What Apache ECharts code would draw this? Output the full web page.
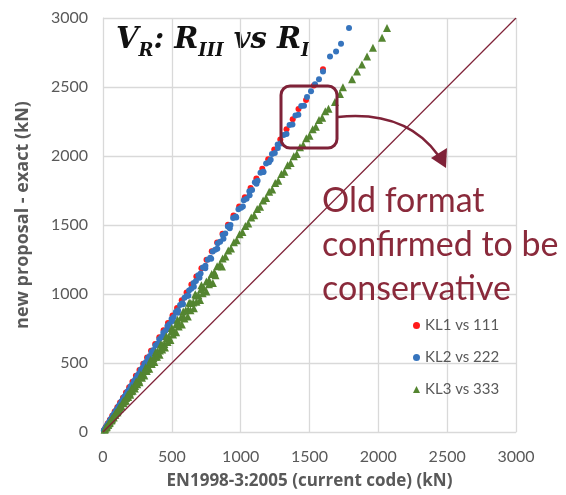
<!doctype html>
<html>
<head>
<meta charset="utf-8">
<title>V_R: R_III vs R_I</title>
<style>
  html, body { margin: 0; padding: 0; background: #fff; }
  #main { width: 566px; height: 495px; }
</style>
</head>
<body>
<div id="main"></div>
<script src="https://cdn.jsdelivr.net/npm/echarts@6/dist/echarts.min.js"></script>
<script>
// axis ticks
var xTicks = [0, 500, 1000, 1500, 2000, 2500, 3000];
var yTicks = [0, 500, 1000, 1500, 2000, 2500, 3000];

// EN1998-3 value vs new proposal value
var kl1 = [
  [8,15],[20,36],[34,61],[50,88],[67,117],[85,148],[104,180],[124,214],[145,249],[167,286],
  [190,325],[214,365],[239,407],[265,450],[292,494],[320,540],[349,588],[379,637],[409,686],[440,737],
  [472,790],[505,844],[538,898],[572,954],[607,1011],[642,1068],[678,1127],[715,1187],[752,1248],[790,1310],
  [829,1373],[868,1437],[908,1502],[948,1568],[989,1634],[1030,1701],[1072,1769],[1114,1837],[1157,1907],[1200,1977],
  [1244,2048],[1288,2120],[1333,2193],[1378,2267],[1420,2340],[1475,2406],[1532,2510],[1598,2628]
];

var kl2 = [
  [10,17],[24,40],[40,66],[57,94],[75,124],[94,155],[114,188],[135,223],[156,258],[178,294],
  [201,331],[225,370],[249,410],[274,451],[300,494],[326,536],[353,580],[381,626],[409,672],[438,720],
  [468,769],[498,818],[529,869],[560,920],[592,972],[625,1026],[658,1080],[692,1136],[726,1192],[761,1249],
  [797,1308],[833,1367],[870,1428],[907,1489],[945,1551],[984,1615],[1023,1679],[1063,1745],[1103,1810],[1144,1878],
  [1185,1945],[1227,2014],[1269,2083],[1312,2153],[1355,2224],[1398,2294],[1440,2363],[1482,2427],[1511,2470],[1540,2520],
  [1569,2556],[1598,2613],[1649,2721],[1693,2757],[1729,2814],[1787,2928],
  [16,25],[33,53],[52,84],[72,116],[93,149],[116,186],[140,224],[165,263],[191,305],[218,347],
  [246,392],[275,438],[305,486],[336,535],[368,585],[401,638],[435,692],[470,747],[506,805],[543,864],
  [581,925],[620,988],[660,1052],[701,1118],[743,1186],[786,1256],[830,1328],[875,1401],[921,1477],[968,1555],
  [1016,1634],[1065,1716],[1115,1799],[1166,1884],[1218,1972],[1270,2058],
  [6,10],[18,29],[31,50],[47,76],[64,104],[83,135],[104,169],[125,203],[146,237],[168,272],
  [190,308],[213,345],[237,385],[262,424],[287,465],[313,507],[340,551],[367,595],[395,640],[424,687],
  [453,734],[483,783],[514,833],[545,883],[576,933],[608,985],[641,1038],[675,1094],[709,1149],[744,1205],
  [779,1262],[815,1320],[851,1379],[888,1439],[926,1500],[964,1562],[1003,1625],[1043,1690],[1083,1754],[1123,1820],
  [1164,1886],[1206,1955],[1248,2022],[1290,2090],[1333,2160],[1376,2229],[1419,2299],[1460,2365]
];

var kl3 = [
  [12,17],[28,40],[46,66],[65,93],[86,123],[108,155],[131,188],[155,222],[180,258],[206,295],
  [233,334],[261,374],[290,415],[320,458],[350,501],[381,545],[413,591],[446,638],[479,685],[513,734],
  [548,784],[583,834],[619,886],[656,938],[693,991],[731,1046],[770,1101],[809,1157],[849,1214],[889,1272],
  [930,1330],[971,1389],[1013,1449],[1055,1510],[1098,1571],[1141,1632],[1185,1695],[1229,1758],[1273,1821],[1318,1885],
  [1363,1950],[1408,2014],[1454,2080],[1500,2146],[1546,2212],[1592,2278],[1638,2343],[1685,2391],[1721,2449],[1743,2499],
  [1809,2556],[1845,2613],[1881,2663],[1918,2721],[1961,2785],[2027,2857],[2063,2928],
  [20,32],[42,64],[66,100],[92,140],[119,181],[148,225],[178,270],[209,318],[241,366],[275,417],
  [310,470],[346,524],[383,579],[421,636],[460,694],[500,753],[541,813],[583,874],[626,936],[670,999],[715,1063],
  [25,34],[50,68],[77,105],[105,143],[135,184],[166,226],[198,270],[231,315],[265,361],[300,409],
  [336,458],[373,508],[411,560],[450,613],[490,667],[531,722],[573,779],[616,837],[660,896],[705,956],
  [751,1018],[798,1080],
  [16,24],[36,53],[56,83],[76,112],[97,143],[120,177],[143,211],[168,247],[193,284],[220,323],
  [247,363],[276,405],[305,448],[335,492],[366,537],[397,583],[430,631],[463,680],[496,728],[531,779],
  [566,830],[601,882],[638,935],[675,989],[712,1035],[751,1090],[790,1145],[829,1201],[869,1258],[910,1316],
  [951,1375],[992,1433],[1034,1493],[1077,1554],[1120,1616],[1163,1678],[1207,1741],[1251,1804],[1296,1869],[1341,1933],
  [1386,1998],[1431,2063],[1477,2128],[1523,2194],[1569,2260],[1615,2325],
  [38,53],[62,86],[90,125],[120,167],[150,209],[182,253],[215,299],[249,346],[283,393],[318,442],
  [354,492],[392,545],[430,598],[469,652],[509,707],[550,764],[592,822],[635,882],[679,943],[724,1006],
  [770,1070],[817,1135],[864,1200]
];

// 1:1 reference line
var equality = [[0, 0], [3000, 3000]];

var maroon = '#7f2238';
var gridColor = '#d9d9d9';
var labelColor = '#595959';
var serif = '"DejaVu Serif", serif';

var chart = echarts.init(document.getElementById('main'));

function plain(v) { return String(v); }

chart.setOption({
  animation: false,
  backgroundColor: '#fff',
  grid: { left: 103, right: 50, top: 18, bottom: 58 },
  xAxis: {
    type: 'value',
    min: xTicks[0],
    max: xTicks[xTicks.length - 1],
    interval: xTicks[1] - xTicks[0],
    name: 'EN1998-3:2005 (current code) (kN)',
    nameLocation: 'middle',
    nameGap: 41,
    nameTextStyle: { fontFamily: 'Open Sans', fontWeight: 'bold', fontSize: 17, color: labelColor },
    axisLine: { lineStyle: { color: gridColor } },
    axisTick: { show: false },
    axisLabel: { margin: 17, fontFamily: 'Lato', fontSize: 16, color: labelColor, formatter: plain },
    splitLine: { lineStyle: { color: gridColor, width: 1.3 } }
  },
  yAxis: {
    type: 'value',
    min: yTicks[0],
    max: yTicks[yTicks.length - 1],
    interval: yTicks[1] - yTicks[0],
    axisLine: { show: true, lineStyle: { color: gridColor } },
    axisTick: { show: false },
    axisLabel: { margin: 15, fontFamily: 'Lato', fontSize: 16, color: labelColor, formatter: plain },
    splitLine: { lineStyle: { color: gridColor, width: 1.3 } }
  },
  legend: {
    orient: 'vertical',
    left: 408,
    top: 313,
    itemWidth: 7,
    itemHeight: 7,
    itemGap: 17,
    textStyle: { fontFamily: 'Lato', fontSize: 15, color: labelColor },
    data: [
      { name: 'KL1 vs 111', icon: 'circle' },
      { name: 'KL2 vs 222', icon: 'circle' },
      { name: 'KL3 vs 333', icon: 'triangle' }
    ]
  },
  series: [
    {
      type: 'line',
      data: equality,
      symbol: 'none',
      silent: true,
      lineStyle: { color: maroon, width: 1.2 }
    },
    {
      name: 'KL1 vs 111',
      type: 'scatter',
      symbol: 'circle',
      symbolSize: 6,
      itemStyle: { color: '#ff1a1a', opacity: 1 },
      data: kl1
    },
    {
      name: 'KL2 vs 222',
      type: 'scatter',
      symbol: 'circle',
      symbolSize: 6,
      itemStyle: { color: '#3674bd', opacity: 1 },
      data: kl2
    },
    {
      name: 'KL3 vs 333',
      type: 'scatter',
      symbol: 'triangle',
      symbolSize: 8,
      itemStyle: { color: '#548530', opacity: 1 },
      data: kl3
    }
  ],
  graphic: [
    // y axis title
    {
      type: 'text',
      x: 23,
      y: 215,
      rotation: Math.PI / 2,
      style: {
        text: 'new proposal - exact (kN)',
        font: 'bold 18px "Open Sans"',
        fill: labelColor,
        align: 'center',
        verticalAlign: 'middle'
      }
    },
    // title  V_R : R_III vs R_I
    {
      type: 'text',
      left: 116,
      top: 26,
      style: {
        text: '{m|V}{s|R}{m|: R}{s|III}{m| vs R}{s|I}',
        fill: '#111',
        rich: {
          m: { fontFamily: serif, fontStyle: 'italic', fontWeight: 'bold', fontSize: 29, lineHeight: 40, fill: '#111' },
          s: { fontFamily: serif, fontStyle: 'italic', fontWeight: 'bold', fontSize: 18, lineHeight: 16, verticalAlign: 'bottom', fill: '#111' }
        }
      }
    },

    // highlight box and arrow
    {
      type: 'rect',
      shape: { x: 281, y: 86, width: 56, height: 62, r: 9 },
      style: { fill: 'none', stroke: maroon, lineWidth: 3 },
      z: 100
    },
    {
      type: 'bezierCurve',
      shape: { x1: 338, y1: 117, cpx1: 405, cpy1: 110, x2: 438, y2: 155 },
      style: { fill: 'none', stroke: maroon, lineWidth: 2.5 },
      z: 100
    },
    {
      type: 'polygon',
      shape: { points: [[431, 158], [447, 148], [446, 168]] },
      style: { fill: maroon },
      z: 100
    },
    {
      type: 'text',
      left: 322,
      top: 179,
      style: {
        text: 'Old format\nconfirmed to be\nconservative',
        font: '34px Lato',
        lineHeight: 44,
        fill: '#8a2a3b'
      },
      z: 100
    }
  ]
});

window.onresize = chart.resize;
</script>
</body>
</html>
